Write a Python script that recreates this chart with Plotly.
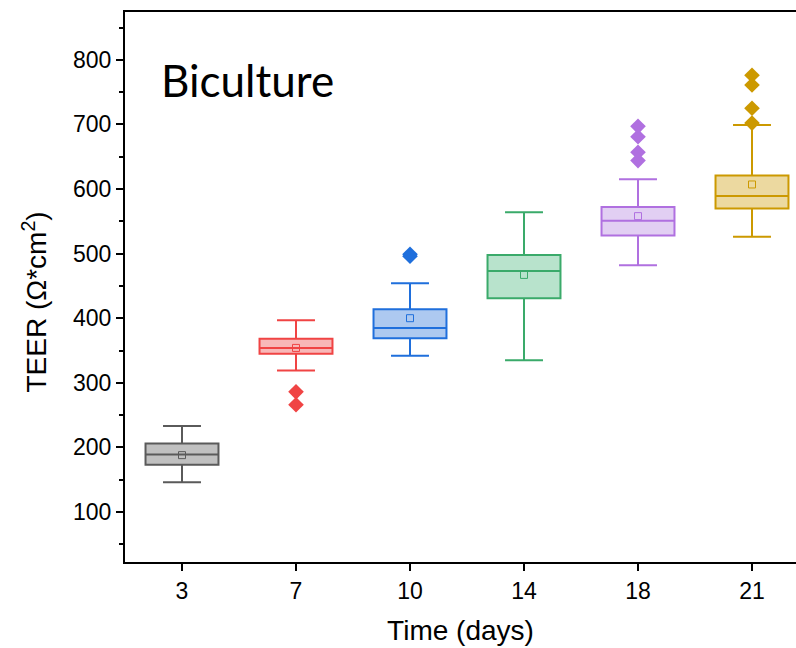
import plotly.graph_objects as go

categories = ["3", "7", "10", "14", "18", "21"]
q1 = [173, 345, 369, 431, 528, 570]
median = [189, 354, 385, 473, 551, 589]
q3 = [206, 368, 414, 498, 572, 621]
lower_whisker = [146, 319, 342, 335, 482, 526]
upper_whisker = [233, 397, 454, 564, 615, 699]
means = [188, 354, 400, 467, 558, 607]
outliers = {
    "3": [],
    "7": [286, 266],
    "10": [499, 496],
    "14": [],
    "18": [697, 681, 657, 644],
    "21": [776, 761, 725, 702],
}
line_colors = ["#5a5a5a", "#f04444", "#1f6fdc", "#3aaa6a", "#b070e0", "#cc9900"]
fill_colors = ["#c0c0c0", "#f8b8b8", "#adc9f0", "#b8e3cc", "#e2cff3", "#ecd9a0"]

fig = go.Figure()
for i, c in enumerate(categories):
    fig.add_trace(go.Box(
        x=[c], q1=[q1[i]], median=[median[i]], q3=[q3[i]],
        lowerfence=[lower_whisker[i]], upperfence=[upper_whisker[i]],
        width=0.64, whiskerwidth=0.52,
        line=dict(color=line_colors[i], width=2),
        fillcolor=fill_colors[i], showlegend=False, hoverinfo="skip",
    ))
    fig.add_trace(go.Scatter(
        x=[c], y=[means[i]], mode="markers", showlegend=False,
        marker=dict(symbol="square-open", size=7, color=line_colors[i],
                    line=dict(width=1, color=line_colors[i])),
    ))
    if outliers[c]:
        fig.add_trace(go.Scatter(
            x=[c] * len(outliers[c]), y=outliers[c], mode="markers", showlegend=False,
            marker=dict(symbol="diamond", size=12, color=line_colors[i],
                        line=dict(width=0)),
        ))

fig.add_annotation(
    text="Biculture", xref="paper", yref="paper", x=0.05, y=0.876,
    xanchor="left", yanchor="middle", showarrow=False,
    font=dict(family="Lato", size=44, color="black"),
)
fig.add_annotation(
    text="TEER (Ω*cm<sup>2</sup>)", xref="paper", yref="paper",
    x=-0.134, y=0.472, xanchor="center", yanchor="middle",
    textangle=-90, showarrow=False,
    font=dict(family="Liberation Sans, Arial", size=28, color="black"),
)

fig.update_layout(
    width=796, height=648,
    margin=dict(l=125, r=0, t=12, b=86),
    paper_bgcolor="white", plot_bgcolor="white",
    boxmode="overlay",
    font=dict(family="Liberation Sans, Arial", color="black"),
)
fig.update_xaxes(
    type="category", categoryorder="array", categoryarray=categories,
    range=[-0.5, 5.386],
    showline=True, linecolor="black", linewidth=2, mirror=True,
    ticks="outside", ticklen=7, tickwidth=1.5, tickcolor="black",
    showgrid=False, zeroline=False,
    tickfont=dict(size=23),
    title=dict(text="Time (days)", font=dict(size=28), standoff=18),
)
fig.update_yaxes(
    range=[22.6, 874], tickvals=[100, 200, 300, 400, 500, 600, 700, 800],
    showline=True, linecolor="black", linewidth=2, mirror=False,
    ticks="outside", ticklen=7, tickwidth=1.5, tickcolor="black",
    minor=dict(tickvals=[50, 150, 250, 350, 450, 550, 650, 750, 850],
               ticks="outside", ticklen=4, tickwidth=1.5, tickcolor="black"),
    showgrid=False, zeroline=False,
    tickfont=dict(size=23),
)

fig.write_html("out.html")
